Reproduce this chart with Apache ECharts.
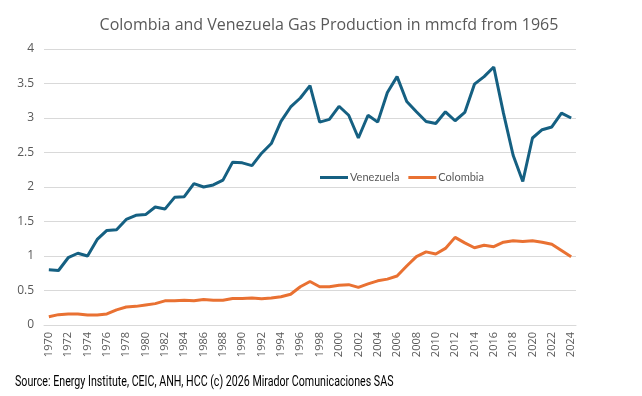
<!DOCTYPE html>
<html><head><meta charset="utf-8">
<script src="https://cdn.jsdelivr.net/npm/echarts@6/dist/echarts.min.js"></script>
<style>html,body{margin:0;padding:0;background:#fff}#c{width:642px;height:396px}</style>
</head><body><div id="c"></div>
<script>
const years = [];
for (let y = 1970; y <= 2024; y++) years.push(String(y));
const venezuela = [0.80,0.79,0.975,1.04,1.00,1.24,1.37,1.38,1.53,1.59,1.60,1.71,1.68,1.85,1.86,2.05,2.00,2.03,2.10,2.36,2.35,2.31,2.49,2.63,2.95,3.16,3.29,3.47,2.94,2.98,3.17,3.04,2.71,3.04,2.94,3.37,3.60,3.24,3.09,2.95,2.92,3.09,2.96,3.08,3.49,3.60,3.74,3.07,2.46,2.08,2.71,2.83,2.87,3.07,3.00];
const colombia = [0.12,0.15,0.16,0.16,0.145,0.145,0.16,0.22,0.26,0.27,0.29,0.31,0.35,0.35,0.36,0.35,0.37,0.36,0.36,0.385,0.385,0.39,0.38,0.39,0.41,0.445,0.555,0.63,0.555,0.555,0.575,0.585,0.545,0.595,0.64,0.665,0.71,0.855,0.99,1.06,1.03,1.11,1.27,1.19,1.12,1.155,1.135,1.20,1.22,1.21,1.22,1.20,1.17,1.08,0.99];
const titleText = 'Colombia and Venezuela Gas Production in mmcfd from 1965';
const sourceText = 'Source: Energy Institute, CEIC, ANH, HCC (c) 2026 Mirador Comunicaciones SAS';

const chart = echarts.init(document.getElementById('c'), null, {renderer: 'canvas'});
chart.setOption({
  animation: false,
  backgroundColor: '#fff',
  title: [
    {text: titleText, left: 324, top: 12, textAlign: 'center',
     textStyle: {fontFamily: 'Open Sans', fontSize: 16, fontWeight: 'normal', color: '#595959'}}
  ],
  graphic: [
    {type: 'text', x: 15, y: 375, scaleX: 0.735, scaleY: 1,
     style: {text: sourceText, font: '14.5px Roboto', fill: '#000'}}
  ],
  legend: {
    left: 315, top: 167, itemWidth: 28, itemHeight: 3, itemGap: 9,
    icon: 'rect',
    textStyle: {fontFamily: 'Lato', fontSize: 11, color: '#595959', padding: [0,0,0,-3]},
    data: ['Venezuela', 'Colombia']
  },
  grid: {left: 44, right: 66, top: 49, bottom: 71, containLabel: false},
  xAxis: {
    type: 'category', data: years, boundaryGap: true,
    axisLine: {lineStyle: {color: '#d9d9d9'}},
    axisTick: {show: false},
    axisLabel: {interval: 1, rotate: 90, color: '#595959', fontFamily: 'Open Sans', fontSize: 11, margin: 7}
  },
  yAxis: {
    type: 'value', min: 0, max: 4, interval: 0.5,
    axisLine: {show: false}, axisTick: {show: false},
    splitLine: {lineStyle: {color: '#d9d9d9', width: 1}},
    axisLabel: {color: '#595959', fontFamily: 'Open Sans', fontSize: 12, margin: 10}
  },
  series: [
    {name: 'Venezuela', type: 'line', data: venezuela, showSymbol: false,
     lineStyle: {color: '#156082', width: 3}, itemStyle: {color: '#156082'}},
    {name: 'Colombia', type: 'line', data: colombia, showSymbol: false,
     lineStyle: {color: '#E97132', width: 3}, itemStyle: {color: '#E97132'}}
  ]
});
</script></body></html>
